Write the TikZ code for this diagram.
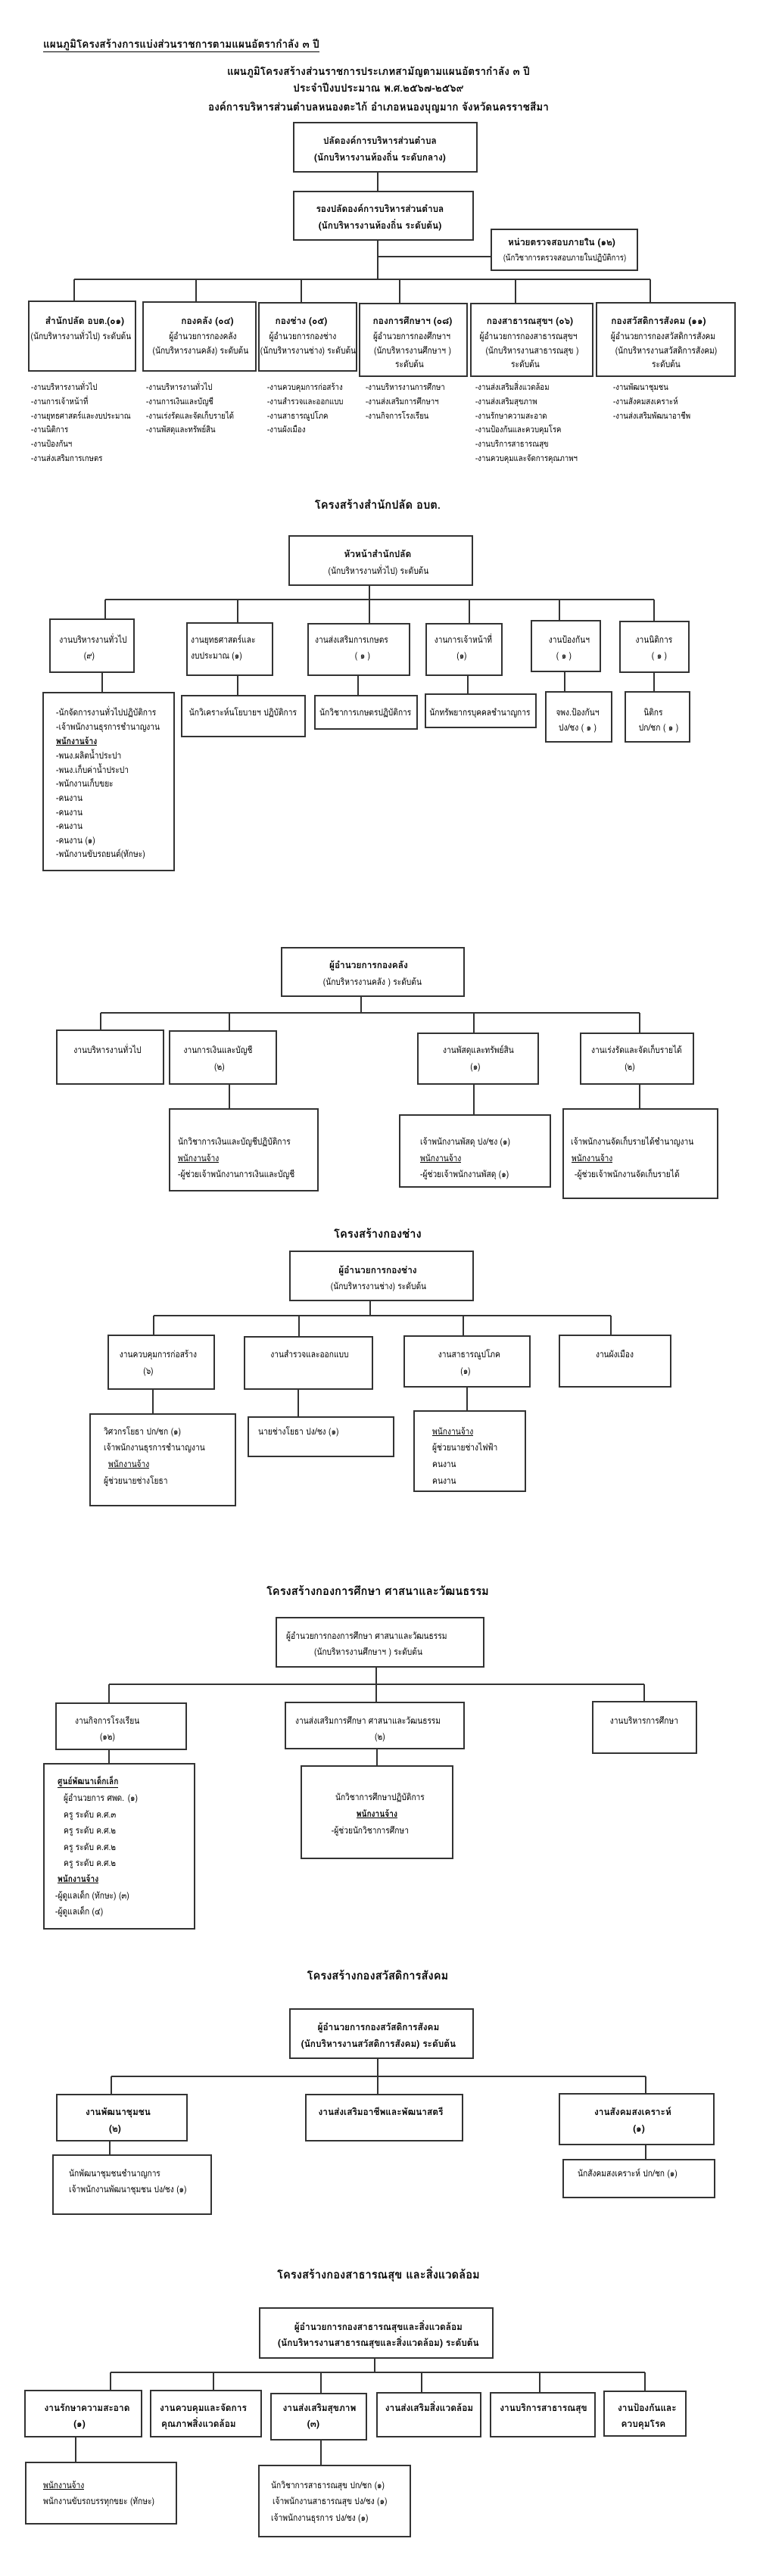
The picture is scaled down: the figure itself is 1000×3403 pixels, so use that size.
\documentclass[tikz,border=0pt]{standalone}
\usepackage{fontspec}
\newfontfamily\thai[Script=Thai,FakeStretch=0.85]{Loma}
\newfontfamily\thaib[Script=Thai,FakeStretch=0.95]{Loma}
\usetikzlibrary{fit}
\newcommand\fN{\thai\fontsize{12}{14}\selectfont}
\newcommand\fB{\thaib\bfseries\fontsize{12.5}{14}\selectfont}
\newcommand\fT{\thaib\bfseries\fontsize{15.5}{18}\selectfont}
\newcommand\fH{\thaib\bfseries\fontsize{14.3}{17}\selectfont}
\newcommand\fS{\thai\fontsize{11.3}{14}\selectfont}
\newcounter{tn}
\newcommand\tx[3][]{\stepcounter{tn}\node[txt,#1] (t\arabic{tn}) at (#2) {#3};}
\newcommand\bx[5]{\node[bx, fit={(#2,#3) (#4,#5)}] (#1) {};}
\newcommand\dr[2]{\draw[ln] (#1) -- (#1 |- #2.north);}
\tikzset{
  txt/.style={inner sep=0pt, anchor=mid, font=\fN},
  lft/.style={anchor=mid west},
  bf/.style={font=\fB},
  ttl/.style={font=\fT},
  hdl/.style={font=\fH},
  sm/.style={font=\fS},
  bx/.style={draw=black!80, line width=1.1pt, inner sep=0pt},
  ln/.style={draw=black!80, line width=1.1pt}
}
\begin{document}
\begin{tikzpicture}[x=1pt,y=-1pt]
\fill[white] (0,0) rectangle (1000,3403);
\useasboundingbox (0,0) rectangle (1000,3403);

%% ---------------- Section 0 : overall chart
\tx[lft,hdl]{57,61}{\underline{แผนภูมิโครงสร้างการแบ่งส่วนราชการตามแผนอัตรากำลัง ๓ ปี}}
\tx[hdl]{500,97}{แผนภูมิโครงสร้างส่วนราชการประเภทสามัญตามแผนอัตรากำลัง ๓ ปี}
\tx[hdl]{500,119}{ประจำปีงบประมาณ พ.ศ.๒๕๖๗-๒๕๖๙}
\tx[hdl]{500,144}{องค์การบริหารส่วนตำบลหนองตะไก้ อำเภอหนองบุญมาก จังหวัดนครราชสีมา}

\bx{p1}{388}{162}{630}{227}
\tx[bf]{502,188}{ปลัดองค์การบริหารส่วนตำบล}
\tx[bf]{502,210}{(นักบริหารงานท้องถิ่น ระดับกลาง)}
\bx{p2}{388}{253}{625}{317}
\tx[bf]{502,278}{รองปลัดองค์การบริหารส่วนตำบล}
\tx[bf]{502,300}{(นักบริหารงานท้องถิ่น ระดับต้น)}
\bx{au}{649}{303}{842}{357}
\tx[bf]{742,322}{หน่วยตรวจสอบภายใน (๑๒)}
\tx[sm]{746,342}{(นักวิชาการตรวจสอบภายในปฏิบัติการ)}

\coordinate (a0) at (499,369);
\coordinate (ax) at (499,339);
\coordinate (a1) at (98,369);
\coordinate (a2) at (259,369);
\coordinate (a3) at (398,369);
\coordinate (a4) at (528,369);
\coordinate (a5) at (681,369);
\coordinate (a6) at (859,369);
\draw[ln] (p1.south -| a0) -- (p2.north -| a0);
\draw[ln] (p2.south -| a0) -- (a0);
\draw[ln] (ax) -- (ax -| au.west);
\draw[ln] (a1) -- (a6);

\bx{d1}{38}{398}{179}{490}
\bx{d2}{189}{399}{338}{490}
\bx{d3}{342}{400}{471}{490}
\bx{d4}{475}{401}{617}{497}
\bx{d5}{622}{401}{783}{497}
\bx{d6}{788}{400}{971}{497}
\dr{a1}{d1}\dr{a2}{d2}\dr{a3}{d3}\dr{a4}{d4}\dr{a5}{d5}\dr{a6}{d6}

\tx[bf]{112,426}{สำนักปลัด อบต.(๐๑)}
\tx{107,446}{(นักบริหารงานทั่วไป) ระดับต้น}
\tx[bf]{274,426}{กองคลัง (๐๔)}
\tx{268,446}{ผู้อำนวยการกองคลัง}
\tx{265,465}{(นักบริหารงานคลัง) ระดับต้น}
\tx[bf]{398,426}{กองช่าง (๐๕)}
\tx{400,446}{ผู้อำนวยการกองช่าง}
\tx{407,465}{(นักบริหารงานช่าง) ระดับต้น}
\tx[bf]{545,426}{กองการศึกษาฯ (๐๘)}
\tx{544,446}{ผู้อำนวยการกองศึกษาฯ}
\tx{545,465}{(นักบริหารงานศึกษาฯ )}
\tx{541,483}{ระดับต้น}
\tx[bf]{700,426}{กองสาธารณสุขฯ  (๐๖)}
\tx{698,446}{ผู้อำนวยการกองสาธารณสุขฯ}
\tx{703,465}{(นักบริหารงานสาธารณสุข )}
\tx{694,483}{ระดับต้น}
\tx[bf]{870,426}{กองสวัสดิการสังคม (๑๑)}
\tx{876,446}{ผู้อำนวยการกองสวัสดิการสังคม}
\tx{880,465}{(นักบริหารงานสวัสดิการสังคม)}
\tx{880,483}{ระดับต้น}

\tx[lft,sm]{41,513}{-งานบริหารงานทั่วไป}
\tx[lft,sm]{41,532}{-งานการเจ้าหน้าที่}
\tx[lft,sm]{41,551}{-งานยุทธศาสตร์และงบประมาณ}
\tx[lft,sm]{41,569}{-งานนิติการ}
\tx[lft,sm]{41,588}{-งานป้องกันฯ}
\tx[lft,sm]{41,607}{-งานส่งเสริมการเกษตร}
\tx[lft,sm]{193,513}{-งานบริหารงานทั่วไป}
\tx[lft,sm]{193,532}{-งานการเงินและบัญชี}
\tx[lft,sm]{193,551}{-งานเร่งรัดและจัดเก็บรายได้}
\tx[lft,sm]{193,569}{-งานพัสดุและทรัพย์สิน}
\tx[lft,sm]{353,513}{-งานควบคุมการก่อสร้าง}
\tx[lft,sm]{353,532}{-งานสำรวจและออกแบบ}
\tx[lft,sm]{353,551}{-งานสาธารณูปโภค}
\tx[lft,sm]{353,569}{-งานผังเมือง}
\tx[lft,sm]{483,513}{-งานบริหารงานการศึกษา}
\tx[lft,sm]{483,532}{-งานส่งเสริมการศึกษาฯ}
\tx[lft,sm]{483,551}{-งานกิจการโรงเรียน}
\tx[lft,sm]{628,513}{-งานส่งเสริมสิ่งแวดล้อม}
\tx[lft,sm]{628,532}{-งานส่งเสริมสุขภาพ}
\tx[lft,sm]{628,551}{-งานรักษาความสะอาด}
\tx[lft,sm]{628,569}{-งานป้องกันและควบคุมโรค}
\tx[lft,sm]{628,588}{-งานบริการสาธารณสุข}
\tx[lft,sm]{628,607}{-งานควบคุมและจัดการคุณภาพฯ}
\tx[lft,sm]{810,513}{-งานพัฒนาชุมชน}
\tx[lft,sm]{810,532}{-งานสังคมสงเคราะห์}
\tx[lft,sm]{810,551}{-งานส่งเสริมพัฒนาอาชีพ}

%% ---------------- Section 1 : สำนักปลัด
\tx[ttl]{499,670}{โครงสร้างสำนักปลัด อบต.}
\bx{h1}{382}{708}{624}{773}
\tx[bf]{499,734}{หัวหน้าสำนักปลัด}
\tx{500,756}{(นักบริหารงานทั่วไป) ระดับต้น}
\coordinate (b1) at (139,792);
\coordinate (b2) at (314,792);
\coordinate (b3) at (488,792);
\coordinate (b4) at (620,792);
\coordinate (b5) at (739,792);
\coordinate (b6) at (864,792);
\draw[ln] (h1.south -| b3) -- (b3);
\draw[ln] (b1) -- (b6);
\bx{s1}{66}{818}{177}{888}
\bx{s2}{247}{823}{360}{892}
\bx{s3}{407}{824}{541}{892}
\bx{s4}{563}{824}{663}{892}
\bx{s5}{702}{820}{793}{887}
\bx{s6}{819}{821}{910}{888}
\dr{b1}{s1}\dr{b2}{s2}\dr{b3}{s3}\dr{b4}{s4}\dr{b5}{s5}\dr{b6}{s6}
\tx{123,847}{งานบริหารงานทั่วไป}
\tx{118,868}{(๙)}
\tx[lft]{252,847}{งานยุทธศาสตร์และ}
\tx[lft]{252,868}{งบประมาณ  (๑)}
\tx[lft]{416,847}{งานส่งเสริมการเกษตร}
\tx{479,868}{( ๑ )}
\tx{612,847}{งานการเจ้าหน้าที่}
\tx{610,868}{(๑)}
\tx{752,847}{งานป้องกันฯ}
\tx{745,868}{( ๑ )}
\tx{864,847}{งานนิติการ}
\tx{871,868}{( ๑ )}

\bx{c1}{57}{915}{230}{1150}
\bx{c2}{240}{919}{403}{973}
\bx{c3}{416}{919}{551}{963}
\bx{c4}{562}{917}{708}{961}
\bx{c5}{721}{914}{808}{980}
\bx{c6}{826}{914}{911}{980}
\coordinate (k1) at (135,888);
\coordinate (k2) at (314,892);
\coordinate (k3) at (473,892);
\coordinate (k4) at (618,892);
\coordinate (k5) at (746,887);
\coordinate (k6) at (864,888);
\dr{k1}{c1}\dr{k2}{c2}\dr{k3}{c3}\dr{k4}{c4}\dr{k5}{c5}\dr{k6}{c6}
\tx[lft]{74,943}{-นักจัดการงานทั่วไปปฏิบัติการ}
\tx[lft]{74,962}{-เจ้าพนักงานธุรการชำนาญงาน}
\tx[lft]{74,981}{{\bfseries\underline{พนักงานจ้าง}}}
\tx[lft]{74,1000}{-พนง.ผลิตน้ำประปา}
\tx[lft]{74,1019}{-พนง.เก็บค่าน้ำประปา}
\tx[lft]{74,1037}{-พนักงานเก็บขยะ}
\tx[lft]{74,1056}{-คนงาน}
\tx[lft]{74,1075}{-คนงาน}
\tx[lft]{74,1093}{-คนงาน}
\tx[lft]{74,1112}{-คนงาน (๑)}
\tx[lft]{74,1130}{-พนักงานขับรถยนต์(ทักษะ)}
\tx{321,943}{นักวิเคราะห์นโยบายฯ ปฏิบัติการ}
\tx[lft]{422,943}{นักวิชาการเกษตรปฏิบัติการ}
\tx{634,943}{นักทรัพยากรบุคคลชำนาญการ}
\tx{763,943}{จพง.ป้องกันฯ}
\tx{763,963}{ปง/ชง ( ๑ )}
\tx{863,943}{นิติกร}
\tx{870,963}{ปก/ชก ( ๑ )}

%% ---------------- Section 2 : กองคลัง
\bx{h2}{372}{1252}{613}{1316}
\tx[bf]{487,1277}{ผู้อำนวยการกองคลัง}
\tx{492,1299}{(นักบริหารงานคลัง ) ระดับต้น}
\coordinate (e0) at (477,1338);
\coordinate (e1) at (133,1338);
\coordinate (e2) at (303,1338);
\coordinate (e3) at (626,1338);
\coordinate (e4) at (845,1338);
\draw[ln] (h2.south -| e0) -- (e0);
\draw[ln] (e1) -- (e4);
\bx{f1}{75}{1361}{216}{1432}
\bx{f2}{224}{1362}{365}{1432}
\bx{f3}{552}{1365}{711}{1432}
\bx{f4}{767}{1365}{916}{1432}
\dr{e1}{f1}\dr{e2}{f2}\dr{e3}{f3}\dr{e4}{f4}
\tx{142,1389}{งานบริหารงานทั่วไป}
\tx{288,1389}{งานการเงินและบัญชี}
\tx{290,1411}{(๒)}
\tx{632,1389}{งานพัสดุและทรัพย์สิน}
\tx{628,1411}{(๑)}
\tx{841,1389}{งานเร่งรัดและจัดเก็บรายได้}
\tx{832,1411}{(๒)}
\bx{g2}{224}{1465}{420}{1573}
\bx{g3}{528}{1473}{727}{1568}
\bx{g4}{744}{1465}{948}{1583}
\coordinate (m2) at (303,1432);
\coordinate (m3) at (626,1432);
\coordinate (m4) at (845,1432);
\dr{m2}{g2}\dr{m3}{g3}\dr{m4}{g4}
\tx[lft]{235,1510}{นักวิชาการเงินและบัญชีปฏิบัติการ}
\tx[lft]{235,1532}{\underline{พนักงานจ้าง}}
\tx[lft]{235,1553}{-ผู้ช่วยเจ้าพนักงานการเงินและบัญชี}
\tx[lft]{555,1510}{เจ้าพนักงานพัสดุ ปง/ชง (๑)}
\tx[lft]{555,1532}{\underline{พนักงานจ้าง}}
\tx[lft]{555,1553}{-ผู้ช่วยเจ้าพนักงานพัสดุ (๑)}
\tx[lft]{754,1510}{เจ้าพนักงานจัดเก็บรายได้ชำนาญงาน}
\tx[lft]{755,1532}{\underline{พนักงานจ้าง}}
\tx[lft]{759,1553}{-ผู้ช่วยเจ้าพนักงานจัดเก็บรายได้}

%% ---------------- Section 3 : กองช่าง
\tx[ttl]{499,1633}{โครงสร้างกองช่าง}
\bx{h3}{383}{1653}{625}{1718}
\tx[bf]{499,1680}{ผู้อำนวยการกองช่าง}
\tx{500,1701}{(นักบริหารงานช่าง) ระดับต้น}
\coordinate (q0) at (489,1738);
\coordinate (q1) at (203,1738);
\coordinate (q2) at (395,1738);
\coordinate (q3) at (612,1738);
\coordinate (q4) at (807,1738);
\draw[ln] (h3.south -| q0) -- (q0);
\draw[ln] (q1) -- (q4);
\bx{r1}{143}{1764}{283}{1835}
\bx{r2}{323}{1766}{492}{1835}
\bx{r3}{534}{1765}{700}{1832}
\bx{r4}{739}{1764}{886}{1832}
\dr{q1}{r1}\dr{q2}{r2}\dr{q3}{r3}\dr{q4}{r4}
\tx{209,1791}{งานควบคุมการก่อสร้าง}
\tx{196,1813}{(๖)}
\tx{409,1791}{งานสำรวจและออกแบบ}
\tx{620,1791}{งานสาธารณูปโภค}
\tx{615,1813}{(๑)}
\tx{812,1791}{งานผังเมือง}
\bx{u1}{119}{1868}{311}{1989}
\bx{u2}{328}{1872}{520}{1924}
\bx{u3}{547}{1864}{694}{1970}
\coordinate (v1) at (202,1835);
\coordinate (v2) at (394,1835);
\coordinate (v3) at (617,1832);
\dr{v1}{u1}\dr{v2}{u2}\dr{v3}{u3}
\tx[lft]{137,1893}{วิศวกรโยธา ปก/ชก (๑)}
\tx[lft]{137,1914}{เจ้าพนักงานธุรการชำนาญงาน}
\tx[lft]{143,1936}{\underline{พนักงานจ้าง}}
\tx[lft]{137,1958}{ผู้ช่วยนายช่างโยธา}
\tx[lft]{341,1893}{นายช่างโยธา ปง/ชง (๑)}
\tx[lft]{571,1893}{\underline{พนักงานจ้าง}}
\tx[lft]{571,1914}{ผู้ช่วยนายช่างไฟฟ้า}
\tx[lft]{571,1936}{คนงาน}
\tx[lft]{571,1958}{คนงาน}

%% ---------------- Section 4 : กองการศึกษา
\tx[ttl]{499,2105}{โครงสร้างกองการศึกษา ศาสนาและวัฒนธรรม}
\bx{h4}{365}{2137}{639}{2202}
\tx[lft]{378,2163}{ผู้อำนวยการกองการศึกษา ศาสนาและวัฒนธรรม}
\tx[lft]{415,2184}{(นักบริหารงานศึกษาฯ ) ระดับต้น}
\coordinate (w0) at (497,2225);
\coordinate (w1) at (144,2225);
\coordinate (w3) at (851,2225);
\draw[ln] (h4.south -| w0) -- (w0);
\draw[ln] (w1) -- (w3);
\bx{x1}{74}{2250}{246}{2311}
\bx{x2}{377}{2249}{613}{2310}
\bx{x3}{783}{2248}{920}{2316}
\dr{w1}{x1}\dr{w0}{x2}\dr{w3}{x3}
\tx[lft]{99,2275}{งานกิจการโรงเรียน}
\tx{142,2296}{(๑๒)}
\tx[lft]{390,2275}{งานส่งเสริมการศึกษา ศาสนาและวัฒนธรรม}
\tx{502,2296}{(๒)}
\tx{851,2275}{งานบริหารการศึกษา}
\bx{y1}{58}{2330}{257}{2548}
\bx{y2}{398}{2333}{598}{2455}
\coordinate (z1) at (144,2311);
\coordinate (z2) at (498,2310);
\dr{z1}{y1}\dr{z2}{y2}
\tx[lft]{76,2355}{{\bfseries\underline{ศูนย์พัฒนาเด็กเล็ก}}}
\tx[lft]{84,2377}{ผู้อำนวยการ ศพด. (๑)}
\tx[lft]{84,2399}{ครู ระดับ ค.ศ.๓}
\tx[lft]{84,2420}{ครู ระดับ ค.ศ.๒}
\tx[lft]{84,2442}{ครู ระดับ ค.ศ.๒}
\tx[lft]{84,2463}{ครู ระดับ ค.ศ.๒}
\tx[lft]{76,2484}{{\bfseries\underline{พนักงานจ้าง}}}
\tx[lft]{73,2506}{-ผู้ดูแลเด็ก (ทักษะ) (๓)}
\tx[lft]{73,2527}{-ผู้ดูแลเด็ก (๔)}
\tx{502,2376}{นักวิชาการศึกษาปฏิบัติการ}
\tx{498,2398}{{\bfseries\underline{พนักงานจ้าง}}}
\tx{489,2420}{-ผู้ช่วยนักวิชาการศึกษา}

%% ---------------- Section 5 : กองสวัสดิการสังคม
\tx[ttl]{499,2613}{โครงสร้างกองสวัสดิการสังคม}
\bx{h5}{383}{2654}{625}{2719}
\tx[bf]{500,2680}{ผู้อำนวยการกองสวัสดิการสังคม}
\tx[bf]{500,2702}{(นักบริหารงานสวัสดิการสังคม) ระดับต้น}
\coordinate (n0) at (499,2743);
\coordinate (n1) at (147,2743);
\coordinate (n3) at (853,2743);
\draw[ln] (h5.south -| n0) -- (n0);
\draw[ln] (n1) -- (n3);
\bx{o1}{75}{2767}{247}{2828}
\bx{o2}{404}{2767}{611}{2828}
\bx{o3}{739}{2766}{943}{2833}
\dr{n1}{o1}\dr{n0}{o2}\dr{n3}{o3}
\tx[bf]{156,2792}{งานพัฒนาชุมชน}
\tx[bf]{152,2814}{(๒)}
\tx[bf]{503,2792}{งานส่งเสริมอาชีพและพัฒนาสตรี}
\tx[bf]{836,2792}{งานสังคมสงเคราะห์}
\tx[bf]{844,2814}{(๑)}
\bx{o4}{70}{2847}{279}{2925}
\bx{o6}{744}{2853}{944}{2903}
\coordinate (n4) at (145,2828);
\coordinate (n6) at (853,2833);
\dr{n4}{o4}\dr{n6}{o6}
\tx[lft]{91,2873}{นักพัฒนาชุมชนชำนาญการ}
\tx[lft]{91,2894}{เจ้าพนักงานพัฒนาชุมชน  ปง/ชง (๑)}
\tx[lft]{763,2873}{นักสังคมสงเคราะห์ ปก/ชก  (๑)}

%% ---------------- Section 6 : กองสาธารณสุข
\tx[ttl]{500,3008}{โครงสร้างกองสาธารณสุข และสิ่งแวดล้อม}
\bx{h6}{343}{3049}{651}{3115}
\tx[bf]{500,3076}{ผู้อำนวยการกองสาธารณสุขและสิ่งแวดล้อม}
\tx[bf]{500,3097}{(นักบริหารงานสาธารณสุขและสิ่งแวดล้อม) ระดับต้น}
\coordinate (s0) at (495,3134);
\coordinate (sa) at (146,3134);
\coordinate (sb) at (282,3134);
\coordinate (sc) at (424,3134);
\coordinate (sd) at (557,3134);
\coordinate (se) at (713,3134);
\coordinate (sf) at (852,3134);
\draw[ln] (h6.south -| s0) -- (s0);
\draw[ln] (sa) -- (sf);
\bx{ra}{33}{3158}{187}{3219}
\bx{rb}{199}{3158}{345}{3219}
\bx{rc}{358}{3162}{484}{3223}
\bx{rd}{498}{3161}{635}{3219}
\bx{re}{648}{3161}{786}{3219}
\bx{rf}{798}{3159}{906}{3218}
\dr{sa}{ra}\dr{sb}{rb}\dr{sc}{rc}\dr{sd}{rd}\dr{se}{re}\dr{sf}{rf}
\tx[bf]{115,3183}{งานรักษาความสะอาด}
\tx[bf]{105,3204}{(๑)}
\tx[bf,lft]{211,3183}{งานควบคุมและจัดการ}
\tx[bf,lft]{213,3204}{คุณภาพสิ่งแวดล้อม}
\tx[bf]{422,3183}{งานส่งเสริมสุขภาพ}
\tx[bf]{414,3204}{(๓)}
\tx[bf]{567,3183}{งานส่งเสริมสิ่งแวดล้อม}
\tx[bf]{718,3183}{งานบริการสาธารณสุข}
\tx[bf]{855,3183}{งานป้องกันและ}
\tx[bf]{850,3204}{ควบคุมโรค}
\bx{qa}{34}{3253}{233}{3334}
\bx{qc}{342}{3257}{542}{3351}
\coordinate (pa) at (100,3219);
\coordinate (pc) at (424,3223);
\dr{pa}{qa}\dr{pc}{qc}
\tx[lft]{57,3285}{\underline{พนักงานจ้าง}}
\tx[lft]{57,3306}{พนักงานขับรถบรรทุกขยะ (ทักษะ)}
\tx[lft]{358,3285}{นักวิชาการสาธารณสุข ปก/ชก (๑)}
\tx[lft]{360,3306}{เจ้าพนักงานสาธารณสุข ปง/ชง (๑)}
\tx[lft]{358,3328}{เจ้าพนักงานธุรการ ปง/ชง (๑)}
\end{tikzpicture}
\end{document}
